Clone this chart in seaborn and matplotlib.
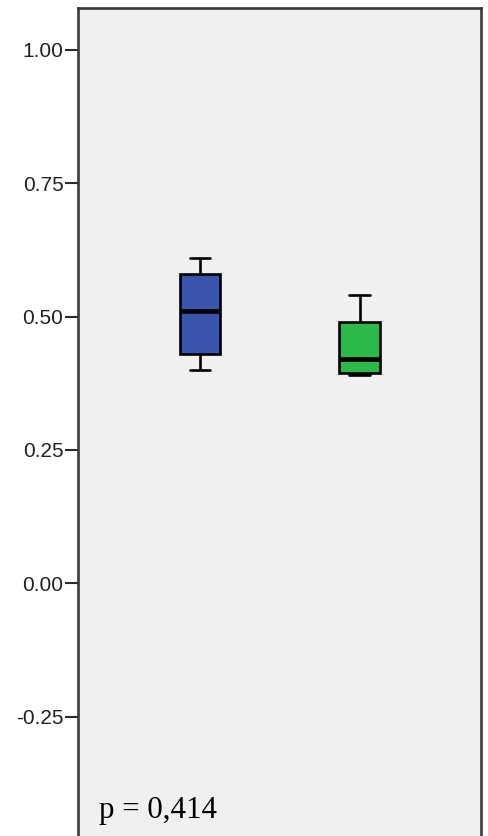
import numpy as np
import pandas as pd
import seaborn as sns
import matplotlib.pyplot as plt

# five-number summaries (min, q1, median, q3, max)
groups = ["Grupo 1", "Grupo 2"]
group1_vals = [0.40, 0.43, 0.51, 0.58, 0.61]
group2_vals = [0.39, 0.395, 0.42, 0.49, 0.54]
box_colors = ["#3B55AC", "#2DB84A"]
y_ticks = [-0.25, 0.00, 0.25, 0.50, 0.75, 1.00]
p_label = "p = 0,414"

sns.set_style("ticks")
plt.rcParams["font.family"] = ["Liberation Sans", "DejaVu Sans"]

df = pd.DataFrame({
    "grupo": [groups[0]] * len(group1_vals) + [groups[1]] * len(group2_vals),
    "valor": group1_vals + group2_vals,
})

dpi = 100
fig = plt.figure(figsize=(488 / dpi, 836 / dpi), dpi=dpi)
fig.patch.set_facecolor("white")
ax = fig.add_axes([77.5 / 488, 0.0, 403.5 / 488, 828.5 / 836])
ax.set_facecolor("#F0F0F0")

sns.boxplot(data=df, x="grupo", y="valor", hue="grupo", palette=box_colors,
            saturation=1, width=0.255, linecolor="black", linewidth=1.9,
            legend=False, ax=ax, medianprops=dict(linewidth=3.4, color="black"))

ax.set_xlim(-0.767, 1.76)
ax.set_ylim(-0.474, 1.0797)
ax.set_yticks(y_ticks)
ax.set_yticklabels([f"{t:.2f}" for t in y_ticks], fontsize=15, color="#222222")
ax.tick_params(axis="y", length=9.5, width=1.5, pad=0.6, color="#2a2a2a")
ax.set_xticks([])
ax.set_xlabel("")
ax.set_ylabel("")

for side in ("left", "right", "top"):
    ax.spines[side].set_color("#3a3a3a")
    ax.spines[side].set_linewidth(1.9)
ax.spines["bottom"].set_visible(False)

ax.text(0.053, 0.0217, p_label, transform=ax.transAxes, ha="left", va="baseline",
        fontsize=22.3, family=["Liberation Serif", "DejaVu Serif"], color="black")

fig.savefig("out.png", dpi=dpi)
